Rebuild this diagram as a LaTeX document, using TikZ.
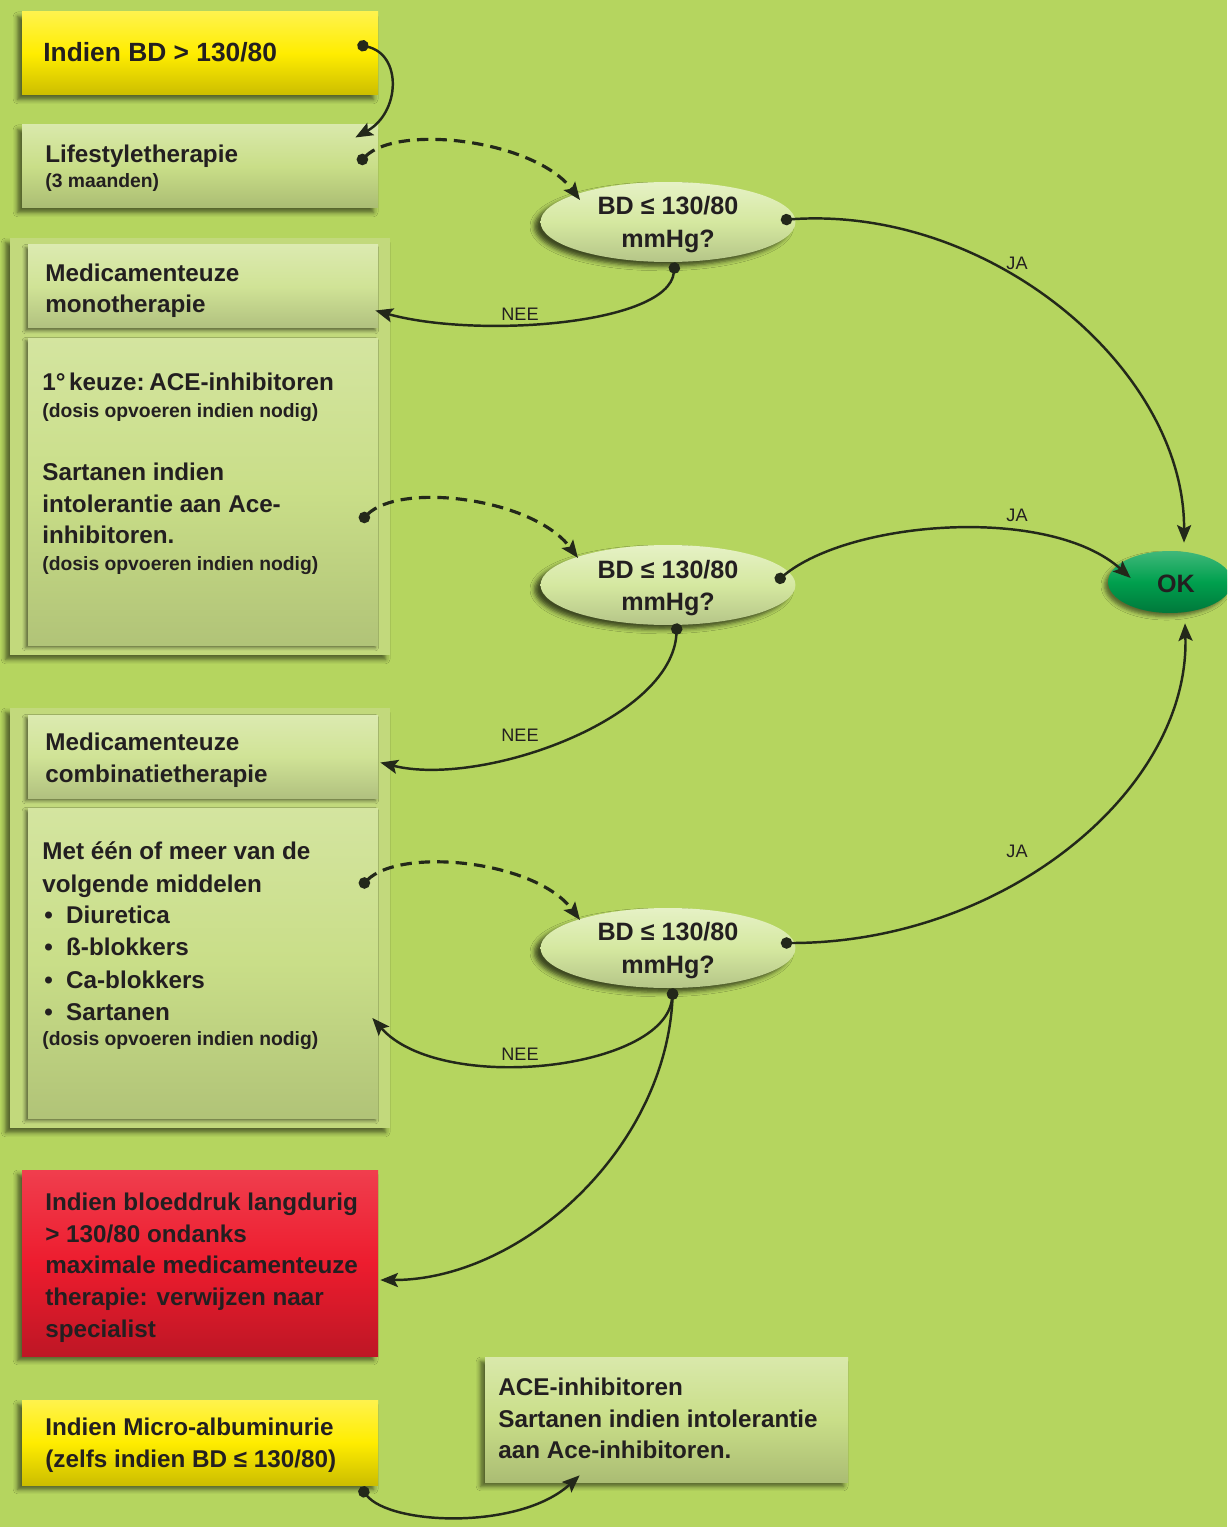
\documentclass[tikz,border=0pt]{standalone}
\usepackage{fontspec}
\setmainfont{Liberation Sans}
\usetikzlibrary{arrows.meta,shapes.geometric,fit,calc,shadows.blur}
\definecolor{bgc}{RGB}{181,213,95}
\definecolor{boxc}{RGB}{201,222,136}
\definecolor{headc}{RGB}{208,227,150}
\definecolor{framec}{RGB}{194,217,124}
\definecolor{ellc}{RGB}{213,232,160}
\definecolor{yelc}{RGB}{255,237,0}
\definecolor{redc}{RGB}{237,28,46}
\definecolor{okc}{RGB}{0,160,78}
\definecolor{txtc}{RGB}{35,31,32}
\definecolor{linec}{RGB}{35,40,26}
\newcommand\xfbig{\fontsize{15}{18}\selectfont\bfseries}
\newcommand\xfmain{\fontsize{13.8}{18}\selectfont\bfseries}
\newcommand\xfell{\fontsize{14.3}{18}\selectfont\bfseries}
\newcommand\xfsmall{\fontsize{11}{13}\selectfont\bfseries}
\newcommand\xflab{\fontsize{10.3}{12}\selectfont}
\begin{document}
\begin{tikzpicture}[x=0.02cm,y=-0.02cm,
  bx/.style={rectangle, inner sep=0, blur shadow={shadow xshift=-2.5pt, shadow yshift=-2.5pt, shadow blur radius=2.5pt, shadow opacity=55}},
  ibx/.style={rectangle, inner sep=0, blur shadow={shadow xshift=-1.5pt, shadow yshift=-1.5pt, shadow blur radius=1.8pt, shadow opacity=50}},
  boxY/.style={bx, top color=yelc!70!white, bottom color=yelc!80!black, middle color=yelc},
  boxR/.style={bx, top color=redc!85!white, bottom color=redc!80!black, middle color=redc},
  boxG/.style={bx, top color=headc!80!white, bottom color=boxc!85!black, middle color=boxc},
  frame/.style={bx, fill=framec},
  inhead/.style={ibx, top color=headc!75!white, bottom color=headc!85!black, middle color=headc},
  inbody/.style={ibx, top color=boxc!80!white, bottom color=boxc!88!black, middle color=boxc},
  ell/.style={ellipse, inner sep=0, minimum width=5.1cm, minimum height=1.6cm, top color=ellc!60!white, bottom color=ellc!85!black, middle color=ellc, blur shadow={shadow xshift=-3.5pt, shadow yshift=-2.5pt, shadow blur radius=2.5pt, shadow opacity=65}},
  okell/.style={ellipse, inner sep=0, minimum width=2.48cm, minimum height=1.24cm, top color=okc!75!white, bottom color=okc!75!black, middle color=okc, blur shadow={shadow xshift=-2pt, shadow yshift=-2pt, shadow blur radius=2pt, shadow opacity=50}},
  txt/.style={anchor=base west, inner sep=0, text=txtc, font=\xfmain},
  txs/.style={anchor=base west, inner sep=0, text=txtc, font=\xfsmall},
  ctx/.style={anchor=base, inner sep=0, text=txtc, font=\xfell},
  lab/.style={anchor=center, inner sep=0, text=txtc, font=\xflab},
  conn/.style={draw=linec, line width=1.4pt, arrows={Circle[length=6.5pt]-Stealth[length=10pt,width=8pt,inset=2pt]}},
  dconn/.style={conn, line width=1.8pt, dash pattern=on 6.5pt off 4pt}
]
\useasboundingbox (0,0) rectangle (1227,1527);
\clip (0,0) rectangle (1227,1527);
\fill[bgc] (0,0) rectangle (1227,1527);

% boxes
\node[boxY, fit={(22,12)(378,95)}] (y1) {};
\node[boxG, fit={(22,125)(378,208)}] (life) {};
\node[frame, fit={(10,238)(390,655)}] (monoOuter) {};
\node[inhead, fit={(28,245)(378,328)}] (monoHead) {};
\node[inbody, fit={(28,338)(378,645)}] (monoBody) {};
\node[frame, fit={(10,708)(390,1128)}] (comboOuter) {};
\node[inhead, fit={(28,715)(378,798)}] (comboHead) {};
\node[inbody, fit={(28,808)(378,1118)}] (comboBody) {};
\node[boxR, fit={(22,1170)(378,1356)}] (red) {};
\node[boxY, fit={(22,1400)(378,1485)}] (y2) {};
\node[boxG, fit={(485,1357)(848,1482)}] (ace) {};

% decision ellipses
\node[ell] (e1) at (668,222) {};
\node[ell] (e2) at (668,585) {};
\node[ell] (e3) at (668,948) {};
\node[okell] (ok) at (1170,582) {};

% texts
\node[txt, font=\xfbig] (t1) at (43,62) {Indien BD > 130/80};
\node[txt] (t2) at (45,163) {Lifestyletherapie};
\node[txs] (t3) at (45,188) {(3 maanden)};
\node[txt] (t4) at (45,282) {Medicamenteuze};
\node[txt] (t5) at (45,313) {monotherapie};
\node[txt] (t6) at (42,390) {1°\hspace{0.15em}keuze:\hspace{0.2em}ACE-inhibitoren};
\node[txs] (t7) at (42,417) {(dosis opvoeren indien nodig)};
\node[txt] (t8) at (42,480) {Sartanen indien};
\node[txt] (t9) at (42,512) {intolerantie aan Ace-};
\node[txt] (t10) at (42,543) {inhibitoren.};
\node[txs] (t11) at (42,570) {(dosis opvoeren indien nodig)};
\node[txt] (t12) at (45,750) {Medicamenteuze};
\node[txt] (t13) at (45,782) {combinatietherapie};
\node[txt] (t14) at (42,859) {Met één of meer van de};
\node[txt] (t15) at (42,892) {volgende middelen};
\node[txt] (t16) at (44,923) {•\hspace{0.55em}Diuretica};
\node[txt] (t17) at (44,955) {•\hspace{0.55em}ß-blokkers};
\node[txt] (t18) at (44,988) {•\hspace{0.55em}Ca-blokkers};
\node[txt] (t19) at (44,1020) {•\hspace{0.55em}Sartanen};
\node[txs] (t20) at (42,1045) {(dosis opvoeren indien nodig)};
\node[txt] (t21) at (45,1210) {Indien bloeddruk langdurig};
\node[txt] (t22) at (45,1242) {> 130/80 ondanks};
\node[txt] (t23) at (45,1273) {maximale medicamenteuze};
\node[txt] (t24) at (45,1305) {therapie: verwijzen naar};
\node[txt] (t25) at (45,1337) {specialist};
\node[txt] (t26) at (45,1435) {Indien Micro-albuminurie};
\node[txt] (t27) at (45,1467) {(zelfs indien BD ≤ 130/80)};
\node[txt] (t28) at (498,1395) {ACE-inhibitoren};
\node[txt] (t29) at (498,1427) {Sartanen indien intolerantie};
\node[txt] (t30) at (498,1458) {aan Ace-inhibitoren.};
\node[ctx] (q1a) at (668,215) {BD ≤ 130/80};
\node[ctx] (q1b) at (668,248) {mmHg?};
\node[ctx] (q2a) at (668,578) {BD ≤ 130/80};
\node[ctx] (q2b) at (668,610) {mmHg?};
\node[ctx] (q3a) at (668,940) {BD ≤ 130/80};
\node[ctx] (q3b) at (668,973) {mmHg?};
\node[ctx] (okt) at (1176,592) {OK};

% labels
\node[lab] (n1) at (520,314) {NEE};
\node[lab] (n2) at (520,735) {NEE};
\node[lab] (n3) at (520,1054) {NEE};
\node[lab] (j1) at (1017,263) {JA};
\node[lab] (j2) at (1017,515) {JA};
\node[lab] (j3) at (1017,851) {JA};

% connectors
\draw[conn] ($(y1.east)+(-21,-9)$) .. controls +(45,10) and +(45,-25) .. ($(life.east)+(-23,-29)$);
\draw[dconn] ($(life.east)+(-20,-3)$) .. controls +(40,-40) and +(-45,-60) .. ($(e1.center)+(-88,-22)$);
\draw[conn] ($(e1.south)+(7,0)$) .. controls +(-7,63) and +(100,28) .. ($(monoHead.east)+(-3,24)$);
\draw[conn] ($(e1.east)+(-15,-2)$) .. controls +(210,-15) and +(1,-173) .. ($(ok.north)+(14,-8)$);
\draw[dconn] ($(monoBody.east)+(-18,30)$) .. controls +(40,-40) and +(-45,-60) .. ($(e2.center)+(-90,-27)$);
\draw[conn] ($(e2.east)+(-20,-3)$) .. controls +(75,-62) and +(-81,-73) .. ($(ok.west)+(23,-4)$);
\draw[conn] ($(e2.south)+(9,-2)$) .. controls +(-5,97) and +(100,25) .. ($(comboHead.east)+(2,6)$);
\draw[dconn] ($(comboBody.east)+(-18,-76)$) .. controls +(40,-40) and +(-45,-60) .. ($(e3.center)+(-88,-28)$);
\draw[conn] ($(e3.east)+(-15,-5)$) .. controls +(223,0) and +(5,167) .. ($(ok.south)+(15,10)$);
\draw[conn] ($(e3.south)+(5,0)$) .. controls +(-8,82) and +(68,77) .. ($(comboBody.east)+(-6,55)$);
\draw[conn] ($(e3.south)+(5,0)$) .. controls +(-8,162) and +(140,0) .. ($(red.east)+(2,17)$);
\draw[conn] ($(y2.south east)+(-18,2)$) .. controls +(30,38) and +(-60,55) .. ($(ace.south west)+(95,-7)$);
\end{tikzpicture}
\end{document}
